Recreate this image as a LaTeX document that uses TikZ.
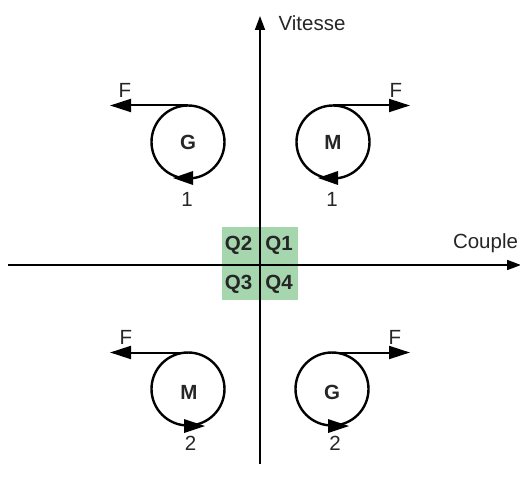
\documentclass[tikz,border=0pt]{standalone}
\usepackage{fontspec}
\setmainfont{Liberation Sans}
\usetikzlibrary{arrows.meta}
\definecolor{quad}{HTML}{A5D6AE}
\definecolor{txt}{HTML}{262626}
\tikzset{
  ax/.style={line width=1.6pt,-{Triangle[length=14pt,width=10pt]}},
  force/.style={line width=2pt,-{Triangle[length=21pt,width=13pt]}},
  wheel/.style={circle,draw,line width=2.4pt,minimum size=73pt,inner sep=0pt,outer sep=0pt},
  wlab/.style={font=\fontsize{20.5}{22}\selectfont\bfseries,text=txt,inner sep=0pt},
  lab/.style={font=\fontsize{20.5}{22}\selectfont,text=txt,inner sep=0pt},
  qlab/.style={font=\fontsize{20.5}{22}\selectfont\bfseries,text=txt,inner sep=0pt},
  turn/.style={fill=black,draw=none},
}
\begin{document}
\begin{tikzpicture}[x=1pt,y=-1pt]
\useasboundingbox (0,0) rectangle (520,492);
\fill[quad] (222,227) rectangle (298,300);
\node[qlab] (q2) at (238.5,245.5) {Q2};
\node[qlab] (q1) at (279,245.5) {Q1};
\node[qlab] (q3) at (238.5,284) {Q3};
\node[qlab] (q4) at (279,284) {Q4};
\coordinate (xs) at (8,265); \coordinate (xe) at (521,265);
\coordinate (ys) at (260,464); \coordinate (ye) at (260,16);
\draw[ax] (xs) -- (xe);
\draw[ax] (ys) -- (ye);
\node[lab] (vit) at (312,23.5) {Vitesse};
\node[lab] (cou) at (485.5,243) {Couple};
% quadrant 2
\node[wheel] (g1) at (188,142) {};
\node[wlab] (tg1) at (188,142) {G};
\coordinate (f1) at (110,105.5);
\draw[force] (g1.north) -- (f1);
\node[lab] at (125,90) (lf1) {F};
\fill[turn] (193,171) -- (173,178) -- (193,185) -- cycle;
\node[lab] (l1) at (187,199) {1};
% quadrant 1
\node[wheel] (m1) at (333,142) {};
\node[wlab] (tm1) at (333,142) {M};
\coordinate (f2) at (410,105.5);
\draw[force] (m1.north) -- (f2);
\node[lab] at (396,90) (lf2) {F};
\fill[turn] (338,171) -- (318,178) -- (338,185) -- cycle;
\node[lab] (l2) at (332,199) {1};
% quadrant 3
\node[wheel] (m2) at (188,389) {};
\node[wlab] (tm2) at (189,392.5) {M};
\coordinate (f3) at (110,352.5);
\draw[force] (m2.north) -- (f3);
\node[lab] at (126,337) (lf3) {F};
\fill[turn] (184,419) -- (205,426) -- (184,433) -- cycle;
\node[lab] (l3) at (190.5,443) {2};
% quadrant 4
\node[wheel] (g2) at (332,389) {};
\node[wlab] (tg2) at (332,392) {G};
\coordinate (f4) at (410,352.5);
\draw[force] (g2.north) -- (f4);
\node[lab] at (395,337) (lf4) {F};
\fill[turn] (328,419) -- (349,426) -- (328,433) -- cycle;
\node[lab] (l4) at (335,443) {2};
\end{tikzpicture}
\end{document}
